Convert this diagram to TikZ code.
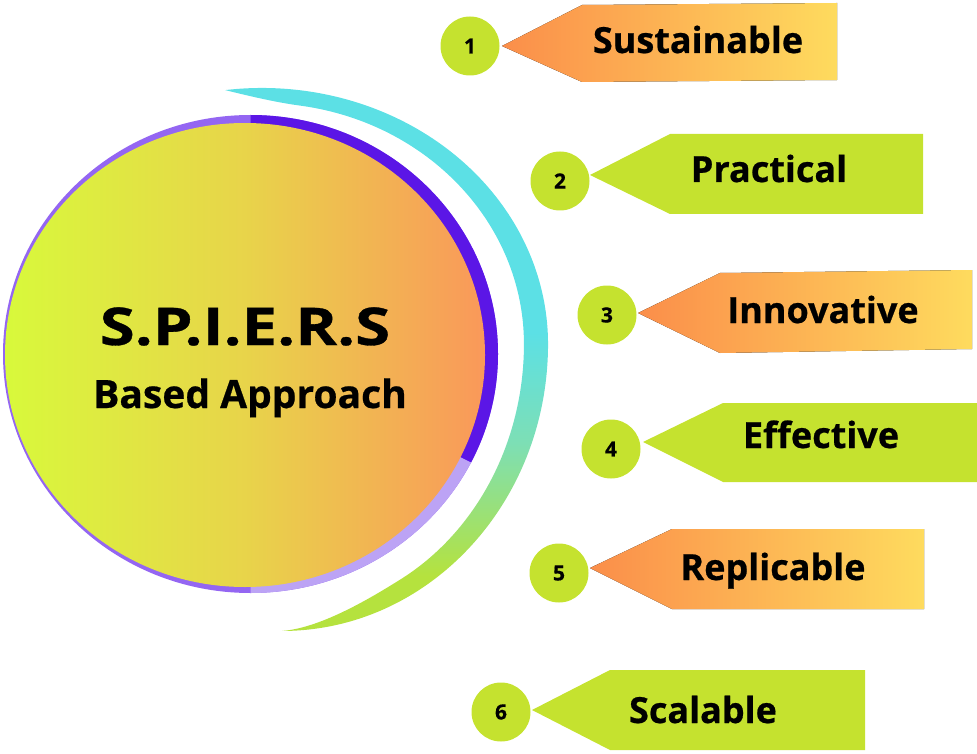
\documentclass[tikz,border=0pt]{standalone}
\usepackage{fontspec}
\setmainfont{Open Sans}
\newfontfamily\heavyfont{Open Sans}[UprightFont=* Bold, FakeBold=0.6]
\usepackage{graphicx}
\definecolor{limeC}{HTML}{C5E22F}
\definecolor{tagOrange}{HTML}{FB8E4A}
\definecolor{tagYellow}{HTML}{FEDB5E}
\definecolor{crCyan}{HTML}{5CE0E5}
\definecolor{crMint}{HTML}{7DDFB5}
\definecolor{crGreen}{HTML}{B5E23E}
\definecolor{purDark}{HTML}{5B16E6}
\definecolor{purMid}{HTML}{9466F2}
\definecolor{purLight}{HTML}{BCA3F5}
\definecolor{cirLeft}{HTML}{D8F93B}
\definecolor{cirMid}{HTML}{E8D44A}
\definecolor{cirRight}{HTML}{FA985A}
\pgfdeclareverticalshading{crescentshade}{100bp}{color(0bp)=(crGreen); color(30bp)=(crGreen); color(42bp)=(crMint); color(52bp)=(crCyan); color(100bp)=(crCyan)}
\tikzset{
  numc/.style={circle, fill=limeC, minimum size=59pt, inner sep=0pt, font=\heavyfont\fontsize{21}{21}\selectfont},
  tagtext/.style={anchor=base, inner sep=0pt, font=\heavyfont\fontsize{36}{36}\selectfont},
  tagor/.style={left color=tagOrange, right color=tagYellow},
  taggr/.style={fill=limeC},
}
\begin{document}
\begin{tikzpicture}[x=1pt,y=-1pt]
\useasboundingbox (0,0) rectangle (977,754);

% crescent
\shade[shading=crescentshade] (225.2,90.1)
  arc[start angle=-97.4, end angle=0, x radius=286, y radius=256]
  arc[start angle=0, end angle=90, x radius=266, y radius=287]
  .. controls (322,628) and (374.5,595.6) .. (400,579.7)
  arc[start angle=60.8, end angle=0, x radius=242, y radius=270]
  arc[start angle=0, end angle=-81.66, x radius=262, y radius=241]
  .. controls (275,102.3) and (245,95) .. cycle;

% purple ring
\coordinate (pc) at (250.5,354);
\fill[purMid] (pc) ellipse [x radius=247.5, y radius=239];
\fill[purDark] (pc) -- ++(-90:247.5 and 239) arc[start angle=-90, end angle=27, x radius=247.5, y radius=239] -- cycle;
\fill[purLight] (pc) -- ++(27:247.5 and 239) arc[start angle=27, end angle=90, x radius=247.5, y radius=239] -- cycle;

% main circle
\shade[left color=cirLeft, right color=cirRight, middle color=cirMid] (245,355) ellipse [x radius=240, y radius=232];

\node[anchor=base, inner sep=0pt, font=\heavyfont\fontsize{52}{52}\selectfont] (title) at (245,345) {\scalebox{1.22}[1]{S.P.I.E.R.S}};
\node[anchor=base, inner sep=0pt, font=\heavyfont\fontsize{39}{39}\selectfont] (sub) at (250,408) {Based Approach};

% tag 1
\fill[tagor] (502,46) -- (582,5) -- (837,3) -- (837,80) -- (582,82) -- cycle;
\node[numc] (n1) at (470,46) {1};
\node[tagtext] (t1) at (698,53) {Sustainable};
% tag 2
\fill[taggr] (590,175) -- (670,134) -- (923,134) -- (923,214) -- (670,214) -- cycle;
\node[numc] (n2) at (560,181) {2};
\node[tagtext] (t2) at (769,182) {Practical};
% tag 3
\fill[tagor] (638,313) -- (720,273) -- (972,270) -- (972,349) -- (720,353) -- cycle;
\node[numc] (n3) at (607,315) {3};
\node[tagtext] (t3) at (823,323) {Innovative};
% tag 4
\fill[taggr] (643,442) -- (723,403) -- (977,403) -- (977,482) -- (723,482) -- cycle;
\node[numc] (n4) at (611,449) {4};
\node[tagtext] (t4) at (821,448) {Effective};
% tag 5
\fill[tagor] (590,568) -- (672,529) -- (924,529) -- (924,609) -- (672,609) -- cycle;
\node[numc] (n5) at (559,573) {5};
\node[tagtext] (t5) at (773,580) {Replicable};
% tag 6
\fill[taggr] (532,710) -- (610,670) -- (865,670) -- (865,750) -- (610,750) -- cycle;
\node[numc] (n6) at (501,712) {6};
\node[tagtext] (t6) at (703,723) {Scalable};
\end{tikzpicture}
\end{document}
